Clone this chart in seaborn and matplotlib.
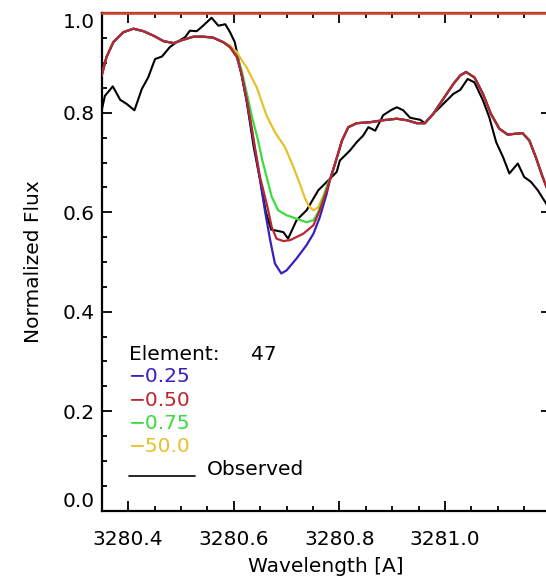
import matplotlib
matplotlib.use("Agg")
import matplotlib.pyplot as plt
from matplotlib.ticker import MultipleLocator, FixedLocator
import seaborn as sns

# Observed spectrum
obs_wave = [3280.350, 3280.356, 3280.371, 3280.385, 3280.397, 3280.412, 3280.426,
            3280.438, 3280.451, 3280.464, 3280.479, 3280.492, 3280.508, 3280.517,
            3280.530, 3280.542, 3280.558, 3280.571, 3280.584, 3280.593, 3280.602,
            3280.612, 3280.625, 3280.638, 3280.650, 3280.661, 3280.671, 3280.681,
            3280.694, 3280.703, 3280.719, 3280.738, 3280.760, 3280.779, 3280.795,
            3280.801, 3280.820, 3280.833, 3280.845, 3280.855, 3280.868, 3280.883,
            3280.899, 3280.909, 3280.921, 3280.934, 3280.943, 3280.953, 3280.962,
            3280.978, 3280.997, 3281.016, 3281.029, 3281.043, 3281.056, 3281.072,
            3281.084, 3281.097, 3281.110, 3281.122, 3281.138, 3281.150, 3281.163,
            3281.176, 3281.192, 3281.200]
obs_flux = [0.805, 0.834, 0.853, 0.826, 0.818, 0.805, 0.848,
            0.871, 0.908, 0.913, 0.932, 0.942, 0.952, 0.965,
            0.964, 0.975, 0.991, 0.975, 0.978, 0.962, 0.942,
            0.892, 0.820, 0.730, 0.665, 0.600, 0.565, 0.563,
            0.560, 0.547, 0.584, 0.604, 0.644, 0.664, 0.681,
            0.704, 0.724, 0.741, 0.754, 0.771, 0.764, 0.795,
            0.806, 0.811, 0.805, 0.790, 0.788, 0.786, 0.779,
            0.798, 0.818, 0.838, 0.846, 0.868, 0.861, 0.825,
            0.791, 0.741, 0.711, 0.678, 0.698, 0.671, 0.661,
            0.644, 0.617, 0.600]

# Synthetic spectra: shared blue wing, per-abundance line core, shared red wing
wing_blue_wave = [3280.350, 3280.359, 3280.372, 3280.391, 3280.410, 3280.429, 3280.448,
                  3280.467, 3280.486, 3280.505, 3280.524, 3280.542, 3280.561, 3280.580]
wing_blue_flux = [0.875, 0.912, 0.942, 0.962, 0.969, 0.964, 0.955,
                  0.944, 0.940, 0.947, 0.953, 0.953, 0.951, 0.942]

wing_red_wave = [3280.792, 3280.805, 3280.817, 3280.833, 3280.858, 3280.883, 3280.909,
                 3280.928, 3280.947, 3280.962, 3280.978, 3280.997, 3281.016, 3281.029,
                 3281.040, 3281.056, 3281.072, 3281.087, 3281.103, 3281.119, 3281.135,
                 3281.147, 3281.160, 3281.172, 3281.185, 3281.200]
wing_red_flux = [0.698, 0.744, 0.771, 0.779, 0.781, 0.785, 0.788,
                 0.785, 0.779, 0.779, 0.798, 0.828, 0.858, 0.875,
                 0.882, 0.871, 0.838, 0.798, 0.768, 0.756, 0.758,
                 0.759, 0.744, 0.711, 0.671, 0.630]

core_025_wave = [3280.593, 3280.606, 3280.615, 3280.625, 3280.634, 3280.642, 3280.650,
                 3280.659, 3280.669, 3280.678, 3280.690, 3280.700, 3280.719, 3280.738,
                 3280.751, 3280.763, 3280.776, 3280.782]
core_025_flux = [0.932, 0.912, 0.876, 0.822, 0.766, 0.715, 0.664,
                 0.604, 0.544, 0.497, 0.477, 0.483, 0.507, 0.534,
                 0.557, 0.590, 0.637, 0.664]

core_050_wave = [3280.593, 3280.606, 3280.615, 3280.625, 3280.634, 3280.640, 3280.650,
                 3280.664, 3280.672, 3280.681, 3280.694, 3280.707, 3280.732, 3280.751,
                 3280.763, 3280.776, 3280.782]
core_050_flux = [0.932, 0.912, 0.878, 0.825, 0.771, 0.731, 0.670,
                 0.610, 0.570, 0.547, 0.542, 0.544, 0.557, 0.574,
                 0.604, 0.644, 0.664]

core_075_wave = [3280.593, 3280.606, 3280.615, 3280.625, 3280.635, 3280.646, 3280.654,
                 3280.664, 3280.672, 3280.684, 3280.700, 3280.719, 3280.738, 3280.751,
                 3280.760, 3280.770, 3280.779, 3280.782]
core_075_flux = [0.932, 0.914, 0.885, 0.838, 0.790, 0.745, 0.705,
                 0.664, 0.631, 0.604, 0.594, 0.587, 0.580, 0.584,
                 0.600, 0.631, 0.660, 0.664]

core_500_wave = [3280.593, 3280.606, 3280.615, 3280.625, 3280.644, 3280.662, 3280.678,
                 3280.697, 3280.713, 3280.726, 3280.735, 3280.743, 3280.751, 3280.760,
                 3280.770, 3280.779, 3280.788]
core_500_flux = [0.935, 0.922, 0.906, 0.890, 0.850, 0.795, 0.761,
                 0.731, 0.691, 0.655, 0.628, 0.611, 0.604, 0.610,
                 0.634, 0.657, 0.685]

abund_labels = ["\u22120.25", "\u22120.50", "\u22120.75", "\u221250.0"]
abund_colors = ["#3520c0", "#b8282e", "#3cdc3c", "#e8c02c"]
cores = [(core_025_wave, core_025_flux), (core_050_wave, core_050_flux),
         (core_075_wave, core_075_flux), (core_500_wave, core_500_flux)]

element_number = 47
continuum_level = 1.0

sns.set_style("white")
plt.rcParams["font.family"] = ["DejaVu Sans"]
plt.rcParams["text.color"] = "black"
plt.rcParams["axes.labelcolor"] = "black"
plt.rcParams["xtick.color"] = "black"
plt.rcParams["ytick.color"] = "black"
FS = 14.5

fig = plt.figure(figsize=(5.46, 5.80), dpi=100)
ax = fig.add_axes([0.1863, 0.1195, 0.8220, 0.8576])

sns.lineplot(x=obs_wave, y=obs_flux, color="black", lw=1.5, ax=ax,
             estimator=None, sort=False, zorder=2)

# draw order: yellow, green, blue, then red on top in the shared wings
for z, idx in enumerate([3, 2, 0, 1]):
    cw, cf = cores[idx]
    wave = wing_blue_wave + cw + wing_red_wave
    flux = wing_blue_flux + cf + wing_red_flux
    sns.lineplot(x=wave, y=flux, color=abund_colors[idx], lw=1.6, ax=ax,
                 estimator=None, sort=False, zorder=3 + z)

ax.axhline(continuum_level, color="#d8482e", lw=1.9, zorder=10, clip_on=False)

ax.set_xlim(3280.35, 3281.20)
ax.set_ylim(0.0, 1.0)

ax.xaxis.set_major_locator(FixedLocator([3280.4, 3280.6, 3280.8, 3281.0]))
ax.xaxis.set_minor_locator(MultipleLocator(0.05))
ax.set_xticklabels(["3280.4", "3280.6", "3280.8", "3281.0"])
ax.set_yticks([0.0, 0.2, 0.4, 0.6, 0.8, 1.0])
ax.set_yticklabels(["0.0", "0.2", "0.4", "0.6", "0.8", "1.0"])
ax.yaxis.set_minor_locator(MultipleLocator(0.05))

ax.tick_params(which="both", direction="in", top=True, right=True,
               bottom=True, left=True, color="black", labelcolor="black",
               width=1.3, labelsize=FS)
ax.tick_params(which="major", length=7.5)
ax.tick_params(which="minor", length=3.8)
ax.tick_params(axis="x", which="major", pad=14)
ax.tick_params(axis="y", which="major", pad=5)

for lab in ax.get_yticklabels():
    if lab.get_text() == "0.0":
        lab.set_va("bottom")
    elif lab.get_text() == "1.0":
        lab.set_va("top")

for s in ax.spines.values():
    s.set_linewidth(1.6)
    s.set_color("black")

ax.set_xlabel("Wavelength [A]", fontsize=FS, labelpad=6, color="black")
ax.set_ylabel("Normalized Flux", fontsize=FS, labelpad=14, color="black")

# annotation block
ax.text(0.0604, 0.315, "Element:", transform=ax.transAxes, fontsize=FS,
        va="center", ha="left", color="black")
ax.text(0.3315, 0.315, str(element_number), transform=ax.transAxes, fontsize=FS,
        va="center", ha="left", color="black")
for i, (lab, col) in enumerate(zip(abund_labels, abund_colors)):
    ax.text(0.0604, 0.2688 - i * 0.0463, lab, transform=ax.transAxes,
            fontsize=FS, va="center", ha="left", color=col)
ax.plot([0.0604, 0.2074], [0.0698, 0.0698], transform=ax.transAxes,
        color="black", lw=1.2)
ax.text(0.2346, 0.0838, "Observed", transform=ax.transAxes, fontsize=FS,
        va="center", ha="left", color="black")

fig.savefig("out.png", dpi=100)
